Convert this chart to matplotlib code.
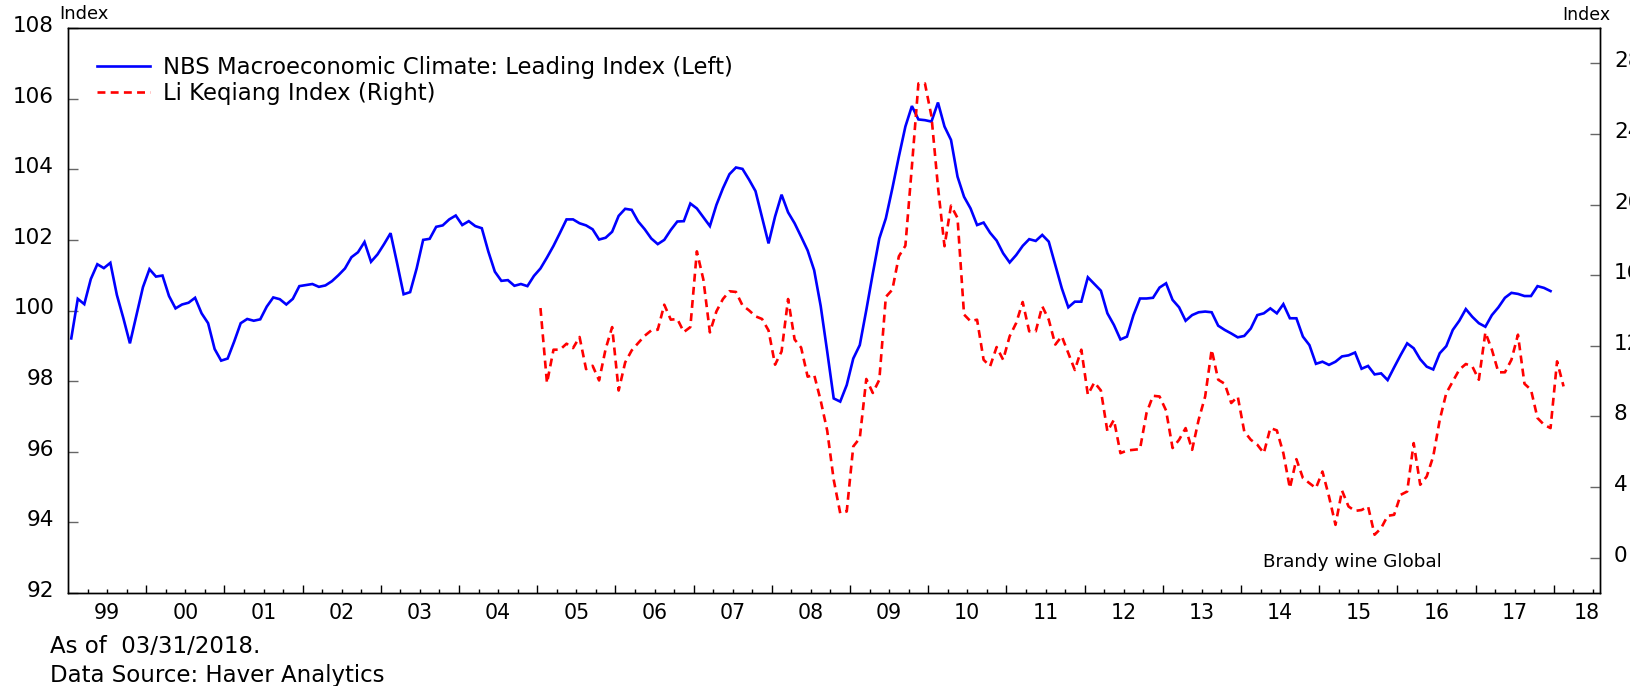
import numpy as np
import matplotlib
matplotlib.use("Agg")
import matplotlib.pyplot as plt
import matplotlib.transforms as mtransforms

plt.rcParams['font.family'] = ['DejaVu Sans']

# ---------------- data ----------------
nbs_start = "1999-01"
nbs_leading = [
    99.21, 100.33, 100.18, 100.89, 101.31, 101.20, 101.35, 100.44, 99.78, 99.07, 99.87, 100.66,
    101.17, 100.96, 100.99, 100.41, 100.06, 100.17, 100.22, 100.36, 99.92, 99.64, 98.91, 98.58,
    98.64, 99.12, 99.64, 99.76, 99.71, 99.75, 100.11, 100.37, 100.32, 100.17, 100.33, 100.69,
    100.72, 100.75, 100.67, 100.71, 100.83, 101.00, 101.19, 101.51, 101.65, 101.94, 101.38, 101.59,
    101.88, 102.19, 101.34, 100.46, 100.52, 101.19, 102.00, 102.03, 102.37, 102.41, 102.58, 102.69,
    102.42, 102.53, 102.39, 102.33, 101.67, 101.10, 100.84, 100.86, 100.70, 100.75, 100.69, 100.98,
    101.19, 101.50, 101.83, 102.20, 102.58, 102.58, 102.47, 102.41, 102.30, 102.01, 102.06, 102.23,
    102.68, 102.88, 102.85, 102.52, 102.30, 102.04, 101.88, 102.00, 102.28, 102.52, 102.53, 103.03,
    102.89, 102.64, 102.39, 102.99, 103.46, 103.86, 104.05, 104.01, 103.71, 103.38, 102.64, 101.90,
    102.66, 103.28, 102.78, 102.47, 102.09, 101.70, 101.14, 100.13, 98.84, 97.51, 97.42, 97.89,
    98.64, 99.02, 100.01, 101.05, 102.04, 102.61, 103.46, 104.36, 105.21, 105.79, 105.41, 105.39,
    105.35, 105.89, 105.21, 104.83, 103.79, 103.22, 102.89, 102.42, 102.49, 102.20, 101.98, 101.62,
    101.36, 101.57, 101.83, 102.02, 101.97, 102.14, 101.95, 101.29, 100.63, 100.09, 100.25, 100.25,
    100.94, 100.75, 100.56, 99.92, 99.59, 99.18, 99.26, 99.87, 100.34, 100.34, 100.36, 100.65,
    100.77, 100.30, 100.09, 99.71, 99.87, 99.95, 99.97, 99.95, 99.57, 99.45, 99.35, 99.24,
    99.28, 99.49, 99.87, 99.92, 100.06, 99.92, 100.18, 99.78, 99.78, 99.26, 99.02, 98.49,
    98.55, 98.46, 98.55, 98.70, 98.73, 98.81, 98.35, 98.43, 98.19, 98.22, 98.03, 98.39,
    98.74, 99.07, 98.93, 98.62, 98.41, 98.33, 98.79, 98.99, 99.45, 99.71, 100.04, 99.82,
    99.64, 99.54, 99.87, 100.09, 100.36, 100.50, 100.47, 100.41, 100.41, 100.69, 100.64, 100.55,
]

lki_start = "2005-01"
li_keqiang = [
    14.14, 9.89, 11.78, 11.78, 12.12, 11.87, 12.50, 10.68, 10.87, 10.04, 11.82, 13.06,
    9.47, 11.06, 11.74, 12.16, 12.57, 12.87, 12.91, 14.33, 13.48, 13.52, 12.78, 13.06,
    17.35, 15.75, 12.76, 13.95, 14.65, 15.09, 15.05, 14.29, 14.01, 13.67, 13.52, 12.87,
    10.93, 11.68, 14.65, 12.36, 11.90, 10.25, 10.36, 8.90, 7.20, 4.41, 2.52, 2.62,
    6.30, 6.77, 10.12, 9.33, 10.08, 14.77, 15.18, 17.07, 17.67, 22.17, 26.86, 26.86,
    25.00, 21.00, 17.64, 19.94, 19.24, 13.77, 13.39, 13.48, 11.21, 10.84, 11.93, 11.21,
    12.54, 13.29, 14.48, 12.82, 12.82, 14.24, 13.48, 12.07, 12.54, 11.59, 10.63, 11.78,
    9.23, 9.93, 9.47, 7.15, 7.81, 5.92, 6.07, 6.11, 6.15, 8.19, 9.17, 9.13,
    8.34, 6.21, 6.68, 7.34, 6.11, 7.81, 9.13, 11.78, 10.08, 9.85, 8.76, 9.13,
    7.15, 6.68, 6.40, 5.92, 7.34, 7.21, 5.92, 3.94, 5.58, 4.51, 4.22, 3.94,
    4.88, 3.47, 1.86, 3.80, 2.90, 2.65, 2.70, 2.90, 1.30, 1.67, 2.37, 2.43,
    3.56, 3.75, 6.49, 4.13, 4.60, 5.74, 7.81, 9.32, 9.98, 10.65, 10.97, 10.83,
    10.08, 12.76, 11.78, 10.50, 10.50, 11.21, 12.63, 9.85, 9.51, 7.91, 7.53, 7.34,
    11.12, 9.70,
]

series_labels = ["NBS Macroeconomic Climate: Leading Index (Left)",
                 "Li Keqiang Index (Right)"]
year_labels = ["99", "00", "01", "02", "03", "04", "05", "06", "07", "08",
               "09", "10", "11", "12", "13", "14", "15", "16", "17", "18"]
left_ticks = [92, 94, 96, 98, 100, 102, 104, 106, 108]
right_ticks = [0, 4, 8, 12, 16, 20, 24, 28]


def month_positions(start, n):
    y, m = map(int, start.split("-"))
    idx = np.arange(n) + (m - 1)
    return y + (idx + 0.5) / 12.0


x_nbs = month_positions(nbs_start, len(nbs_leading))
x_lki = month_positions(lki_start, len(li_keqiang))

# ---------------- figure ----------------
W, H = 1631, 686
fig = plt.figure(figsize=(W / 100, H / 100), dpi=100)
fig.patch.set_facecolor("white")
L, R, T, B = 68, 1600, 28, 593
ax = fig.add_axes([L / W, 1 - B / H, (R - L) / W, (B - T) / H])
ax2 = ax.twinx()

l1, = ax.plot(x_nbs, nbs_leading, color="#0000FF", lw=1.9, solid_joinstyle="miter")
l2, = ax2.plot(x_lki, li_keqiang, color="#FF0000", lw=1.9,
               linestyle=(0, (3.0, 2.0)))

first_year = int(year_labels[0]) + 1900
years = np.arange(first_year, first_year + len(year_labels))
ax.set_xlim(first_year, first_year + (R - L) / 78.2)
ax.set_ylim(92, 108)
ax2.set_ylim(-2, 30)

for s in ax.spines.values():
    s.set_linewidth(1.0)
    s.set_color("black")
for s in ax2.spines.values():
    s.set_linewidth(1.0)
    s.set_color("black")

# x ticks
ax.set_xticks(years[1:])
ax.set_xticks([y + q / 4 for y in years for q in (1, 2, 3)
               if y + q / 4 < ax.get_xlim()[1]], minor=True)
ax.tick_params(axis="x", which="major", direction="in", length=5.5, width=1.0,
               color="black", labelbottom=False)
ax.tick_params(axis="x", which="minor", direction="in", length=3.0, width=1.0,
               color="black", labelbottom=False)

label_pos = [y + 0.5 for y in years[:-1]] + [years[-1] + 0.42]
sec = ax.secondary_xaxis("bottom")
sec.set_ticks(label_pos, labels=year_labels)
sec.tick_params(axis="x", length=0, pad=7, labelsize=14.8)
sec.spines["bottom"].set_visible(False)

# y ticks
ax.set_yticks(left_ticks)
ax.tick_params(axis="y", direction="in", length=7, width=1.0, color="#666666",
               pad=10, labelsize=15.5)
ax2.set_yticks(right_ticks)
ax2.tick_params(axis="y", direction="in", length=7, width=1.0, color="#666666",
                pad=10, labelsize=15.5)

up = mtransforms.ScaledTranslation(0, 4 / 100, fig.dpi_scale_trans)
for lbl in ax.get_yticklabels() + ax2.get_yticklabels():
    lbl.set_transform(lbl.get_transform() + up)

# legend
ax2.legend([l1, l2], series_labels, loc="upper left",
           bbox_to_anchor=((97 - L) / (R - L), (B - 56) / (B - T)),
           frameon=False, fontsize=16.4, handlelength=2.31, handletextpad=0.59,
           labelspacing=0.12, borderpad=0, borderaxespad=0)

# texts
fig.text(59 / W, 1 - 19 / H, "Index", fontsize=13, va="baseline", ha="left")
fig.text(1562 / W, 1 - 19.5 / H, "Index", fontsize=12.5, va="baseline", ha="left")
fig.text(1263 / W, 1 - 566.7 / H, "Brandy wine Global", fontsize=13.2,
         va="baseline", ha="left")
fig.text(50 / W, 1 - 653.3 / H, "As of  03/31/2018.", fontsize=16.5,
         va="baseline", ha="left")
fig.text(50 / W, 1 - 681.7 / H, "Data Source: Haver Analytics", fontsize=16.5,
         va="baseline", ha="left")

fig.savefig("out.png", dpi=100, facecolor="white")
